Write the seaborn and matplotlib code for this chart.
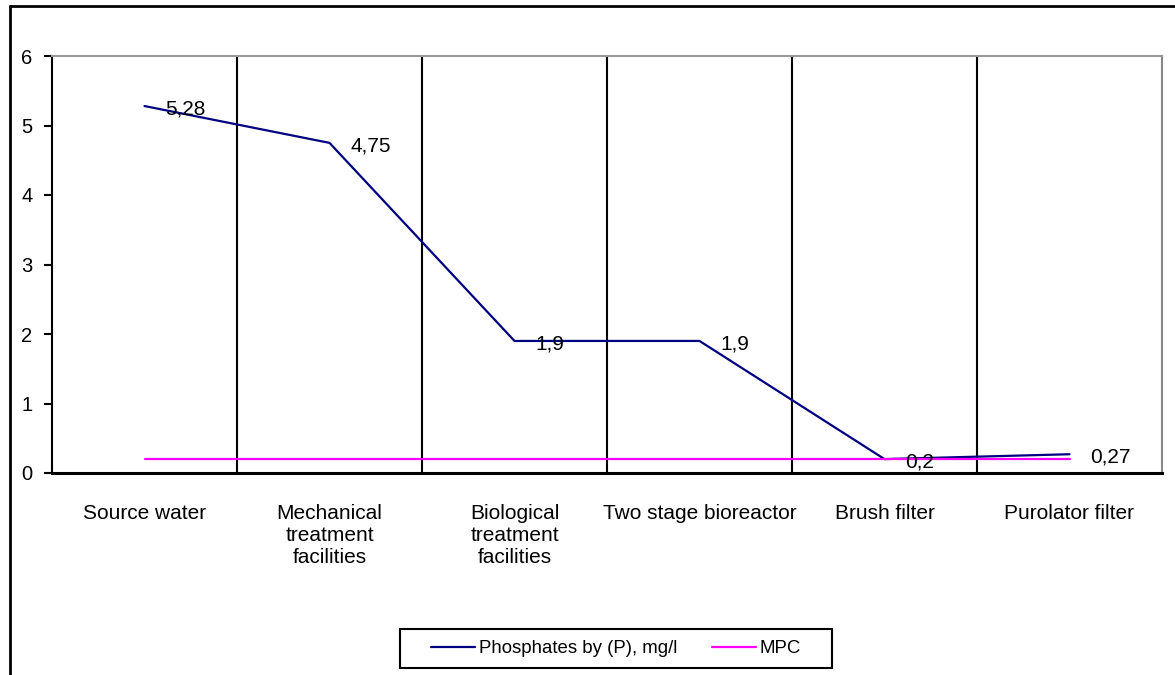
import matplotlib
matplotlib.use("Agg")
import matplotlib.pyplot as plt
from matplotlib.lines import Line2D
from matplotlib.patches import Rectangle
import seaborn as sns
import pandas as pd

categories = ["Source water", "Mechanical\ntreatment\nfacilities", "Biological\ntreatment\nfacilities",
              "Two stage bioreactor", "Brush filter", "Purolator filter"]
phosphates = [5.28, 4.75, 1.9, 1.9, 0.2, 0.27]
mpc = [0.2, 0.2, 0.2, 0.2, 0.2, 0.2]
value_labels = ["5,28", "4,75", "1,9", "1,9", "0,2", "0,27"]
series_names = ["Phosphates by (P), mg/l", "MPC"]
y_ticks = [0, 1, 2, 3, 4, 5, 6]

sns.set_style("white")
plt.rcParams['font.family'] = ['Liberation Sans', 'DejaVu Sans']
plt.rcParams['text.color'] = 'black'
plt.rcParams['xtick.color'] = 'black'
plt.rcParams['ytick.color'] = 'black'

W, H = 1175, 675
fig = plt.figure(figsize=(W / 100, H / 100), dpi=100)
ax = fig.add_axes([52 / W, 1 - 473 / H, (1162 - 52) / W, (473 - 56) / H])

pos = list(range(len(categories)))
df = pd.DataFrame({"pos": pos, "phos": phosphates, "mpc": mpc})
sns.lineplot(data=df, x="pos", y="phos", ax=ax, color="#000080", lw=1.6, label=series_names[0])
sns.lineplot(data=df, x="pos", y="mpc", ax=ax, color="#FF00FF", lw=1.6, label=series_names[1])

for p, v, t in zip(pos, phosphates, value_labels):
    ax.annotate(t, (p, v), xytext=(15, -2), textcoords="offset points",
                ha="left", va="center", fontsize=15, color="black")

ax.set_xlim(-0.5, len(categories) - 0.5)
ax.set_ylim(0, 6)
ax.set_yticks(y_ticks)
ax.set_yticklabels([str(t) for t in y_ticks], fontsize=14.5)
ax.set_xticks(pos)
ax.set_xticklabels(categories, fontsize=15, va="top", ha="center", multialignment="center",
                   linespacing=1.2)
ax.set_xticks([p + 0.5 for p in pos[:-1]] + [-0.5, len(categories) - 0.5], minor=True)
ax.tick_params(axis="x", which="major", length=0, pad=22)
ax.tick_params(axis="x", which="minor", length=6, width=1.5, color="black", direction="out")
ax.tick_params(axis="y", length=6, width=1.5, color="black", direction="out", left=True, pad=8)
ax.set_xlabel("")
ax.set_ylabel("")
for b in [p + 0.5 for p in pos[:-1]]:
    ax.axvline(b, color="black", lw=1.5, zorder=0)

ax.spines["left"].set_color("black")
ax.spines["left"].set_linewidth(1.5)
ax.spines["bottom"].set_color("black")
ax.spines["bottom"].set_linewidth(2.2)
ax.spines["top"].set_color("#999999")
ax.spines["top"].set_linewidth(1.5)
ax.spines["right"].set_color("#888888")
ax.spines["right"].set_linewidth(1.5)

ax.get_legend().remove()
handles = [Line2D([], [], color="#000080", lw=1.6), Line2D([], [], color="#FF00FF", lw=1.6)]
leg = fig.legend(handles, series_names, loc="center", bbox_to_anchor=(616 / W, 1 - 648.5 / H),
                 ncol=2, fontsize=13.4, frameon=False, handlelength=2.37,
                 handletextpad=0.22, columnspacing=1.85)
fig.add_artist(Rectangle((400 / W, 1 - 668 / H), 432 / W, 39 / H, transform=fig.transFigure,
                         fill=False, edgecolor="black", lw=1.5))

# outer chart frame
fig.add_artist(Line2D([10 / W, 10 / W], [0, 1 - 6 / H], color="black", lw=2, transform=fig.transFigure))
fig.add_artist(Line2D([10 / W, 1], [1 - 6 / H, 1 - 6 / H], color="black", lw=2, transform=fig.transFigure))

fig.savefig("out.png", dpi=100)
